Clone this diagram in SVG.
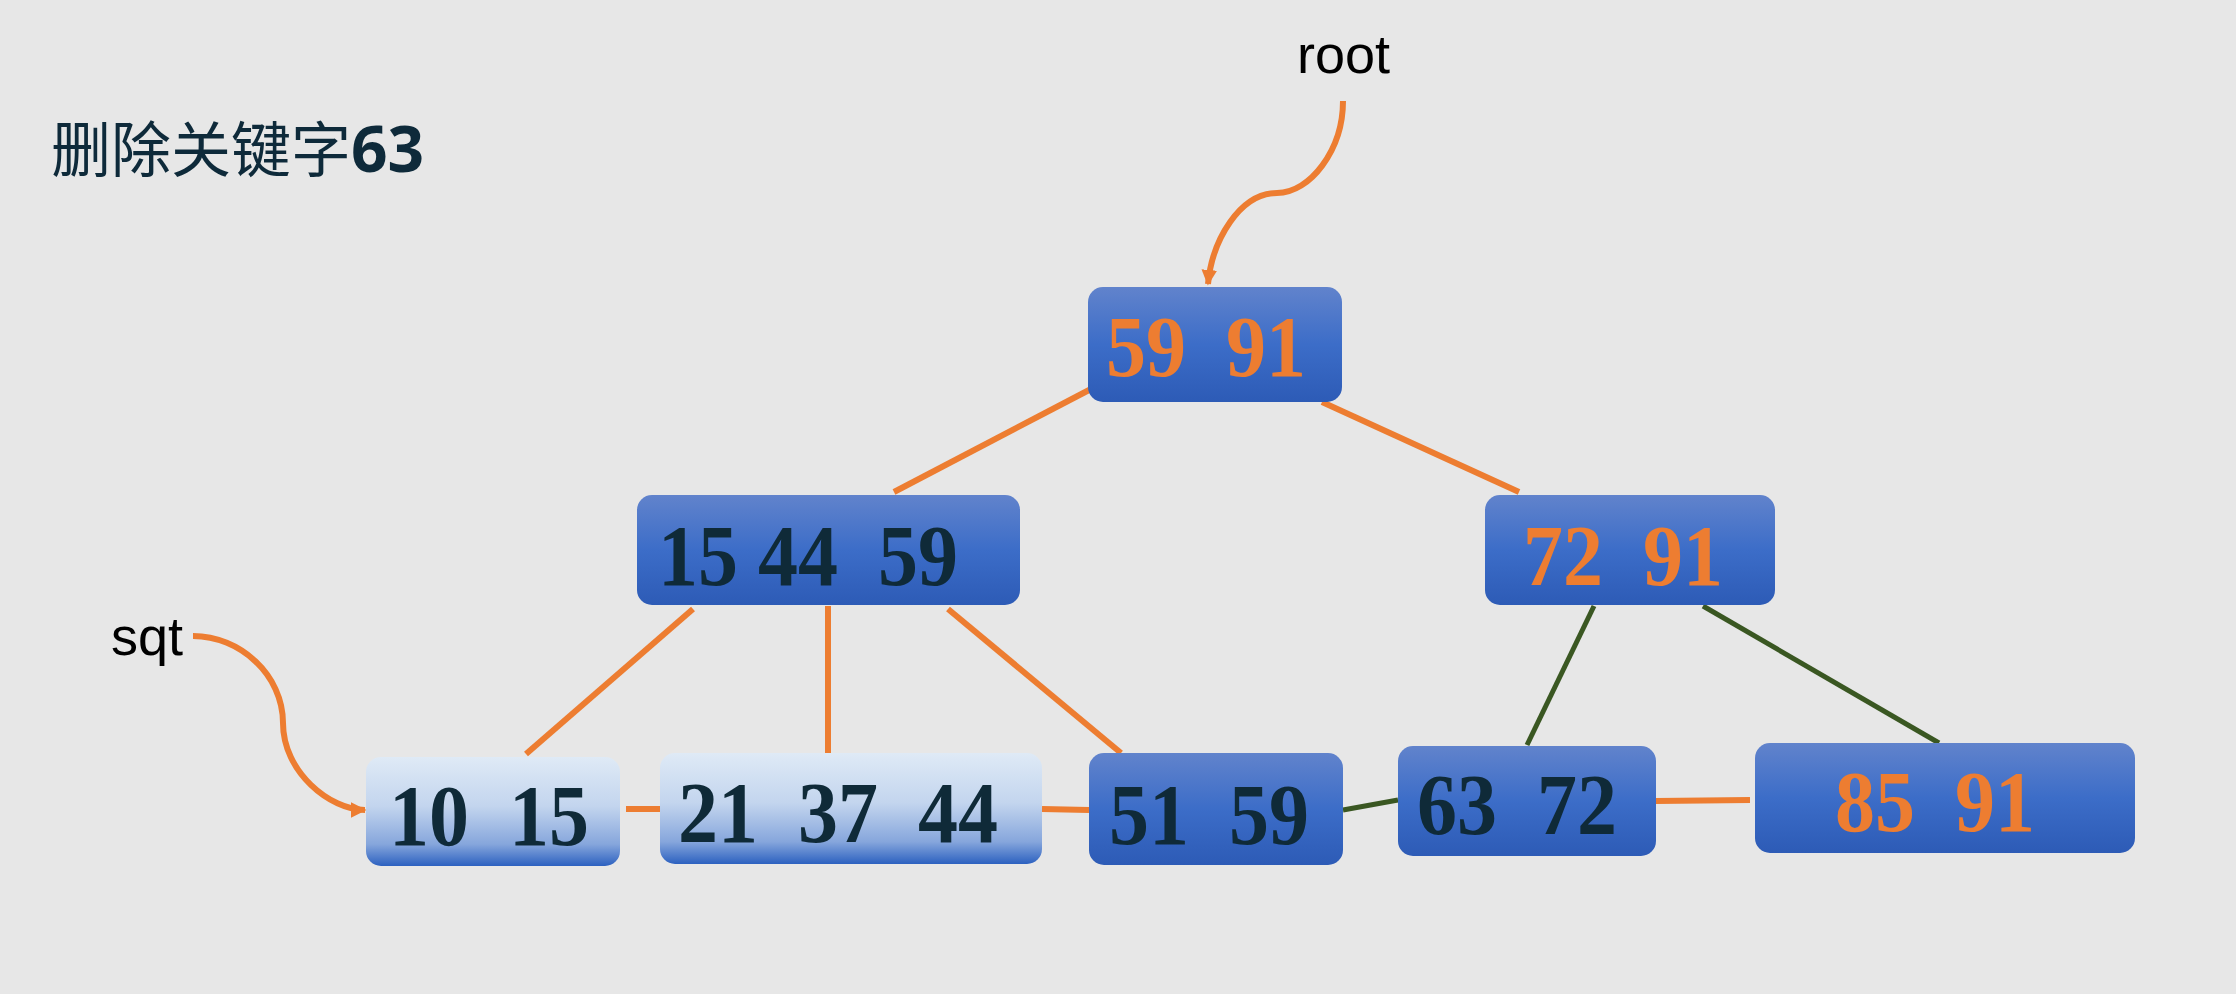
<svg xmlns="http://www.w3.org/2000/svg" width="2236" height="994" viewBox="0 0 2236 994">
<style>
.o{stroke:#ed7d31;stroke-width:6;fill:none}
.g{stroke:#3a5722;stroke-width:5;fill:none}
.k{font-family:"Liberation Serif","Times New Roman",serif;font-weight:bold;font-size:80px}
.dk{fill:#0f2a38}
.or{fill:#ed7d31}
.lbl{font-family:"Liberation Sans",Arial,sans-serif;font-size:54px;fill:#000}
</style>
<defs>
<linearGradient id="dg" x1="0" y1="0" x2="0" y2="1">
<stop offset="0" stop-color="#6183cc"/>
<stop offset="0.5" stop-color="#3c6dc8"/>
<stop offset="1" stop-color="#2d5bb6"/>
</linearGradient>
<linearGradient id="lg" x1="0" y1="0" x2="0" y2="1">
<stop offset="0" stop-color="#dfeaf6"/>
<stop offset="0.45" stop-color="#c3d5ee"/>
<stop offset="0.8" stop-color="#86a6dc"/>
<stop offset="1" stop-color="#2c61c0"/>
</linearGradient>
<marker id="ah" viewBox="0 0 10 10" refX="9" refY="5" markerWidth="2.6" markerHeight="2.6" orient="auto" markerUnits="strokeWidth">
<path d="M0,0 L10,5 L0,10 z" fill="#ed7d31"/>
</marker>
</defs>
<rect width="2236" height="994" fill="#e7e7e7"/>
<text x="51" y="172" font-family="'Noto Sans CJK SC',sans-serif" font-size="60" fill="#0e2a3a">删除关键字<tspan font-weight="bold" font-family="'Open Sans','Noto Sans CJK SC',sans-serif" font-size="64">63</tspan></text>
<text class="lbl" x="1297" y="73">root</text>
<text class="lbl" x="111" y="655" font-size="52">sqt</text>
<g id="connectors">
<path class="o" d="M1343,101 C1343,150 1310,193 1277,193 C1240,193 1212,240 1208,284" marker-end="url(#ah)"/>
<path class="o" d="M193,636 C240,636 283,675 283,723 C283,772 330,810 365,810" marker-end="url(#ah)"/>
<line class="o" x1="1091" y1="389" x2="894" y2="492"/>
<line class="o" x1="1322" y1="402" x2="1519" y2="492"/>
<line class="o" x1="693" y1="609" x2="526" y2="754"/>
<line class="o" x1="828" y1="606" x2="828" y2="753"/>
<line class="o" x1="948" y1="609" x2="1121" y2="753"/>
<line class="g" x1="1594" y1="606" x2="1527" y2="745"/>
<line class="g" x1="1703" y1="606" x2="1939" y2="743"/>
<line class="o" x1="626" y1="809" x2="660" y2="809"/>
<line class="o" x1="1042" y1="809" x2="1089" y2="810"/>
<line class="g" x1="1343" y1="810" x2="1398" y2="800"/>
<line class="o" x1="1656" y1="801" x2="1750" y2="800"/>
</g>
<g id="n-root">
<rect x="1088" y="287" width="254" height="115" rx="15" fill="url(#dg)"/>
<text class="k or" xml:space="preserve" transform="matrix(1 0 0 1.08 1106 376)">59  91</text>
</g>
<g id="n-15-44-59">
<rect x="637" y="495" width="383" height="110" rx="15" fill="url(#dg)"/>
<text class="k dk" xml:space="preserve" transform="matrix(1 0 0 1.08 658 585)">15 44  59</text>
</g>
<g id="n-72-91">
<rect x="1485" y="495" width="290" height="110" rx="15" fill="url(#dg)"/>
<text class="k or" xml:space="preserve" transform="matrix(1 0 0 1.08 1523 585)">72  91</text>
</g>
<g id="n-10-15">
<rect x="366" y="757" width="254" height="109" rx="15" fill="url(#lg)"/>
<text class="k dk" xml:space="preserve" transform="matrix(1 0 0 1.08 389 845)">10  15</text>
</g>
<g id="n-21-37-44">
<rect x="660" y="753" width="382" height="111" rx="15" fill="url(#lg)"/>
<text class="k dk" xml:space="preserve" transform="matrix(1 0 0 1.08 678 842)">21  37  44</text>
</g>
<g id="n-51-59">
<rect x="1089" y="753" width="254" height="112" rx="15" fill="url(#dg)"/>
<text class="k dk" xml:space="preserve" transform="matrix(1 0 0 1.08 1109 844)">51  59</text>
</g>
<g id="n-63-72">
<rect x="1398" y="746" width="258" height="110" rx="15" fill="url(#dg)"/>
<text class="k dk" xml:space="preserve" transform="matrix(1 0 0 1.08 1417 834)">63  72</text>
</g>
<g id="n-85-91">
<rect x="1755" y="743" width="380" height="110" rx="15" fill="url(#dg)"/>
<text class="k or" xml:space="preserve" transform="matrix(1 0 0 1.08 1835 831)">85  91</text>
</g>
</svg>
